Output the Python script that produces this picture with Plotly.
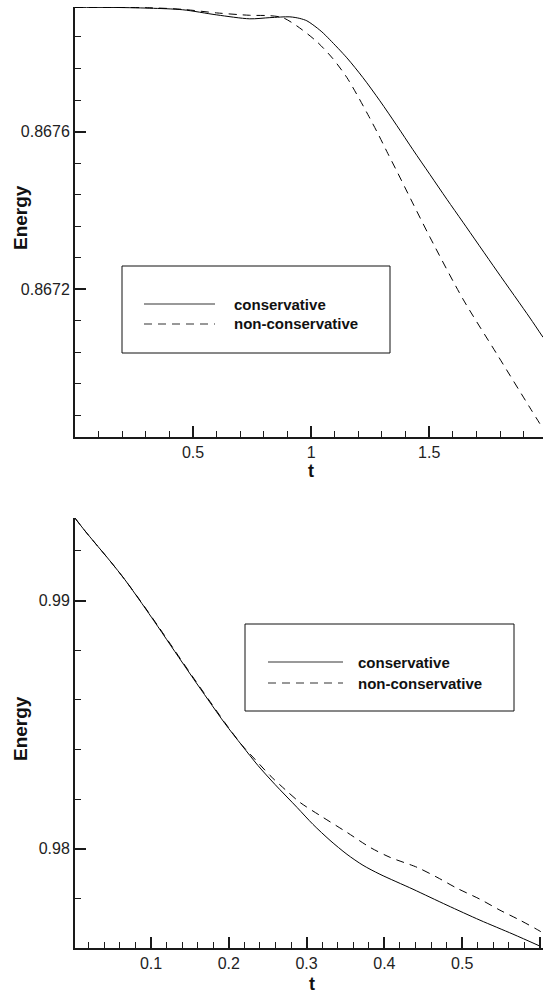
import plotly.graph_objects as go

# ---- upper panel: energy history over t in [0, 2] ----
t_top_cons = [0.0, 0.147, 0.317, 0.456, 0.600, 0.740, 0.825, 0.910, 0.952, 0.9818, 1.0072,
              1.0453, 1.0792, 1.1513, 1.2191, 1.2911, 1.3631, 1.4309, 1.5030, 1.5750,
              1.6428, 1.7869, 1.9267, 1.9818]
e_top_cons = [0.867915, 0.867915, 0.867913, 0.867909, 0.867896, 0.867886, 0.867889,
              0.867891, 0.867887, 0.867881, 0.867871, 0.867853, 0.867833, 0.867787,
              0.867737, 0.867678, 0.867615, 0.867554, 0.867491, 0.867428, 0.867370,
              0.867246, 0.867127, 0.867078]

t_top_noncons = [0.0, 0.317, 0.456, 0.600, 0.740, 0.825, 0.880, 0.9394, 1.0242, 1.0919,
                 1.1513, 1.1936, 1.2403, 1.2826, 1.3250, 1.3674, 1.4097, 1.5030, 1.6428,
                 1.7869, 1.9267, 1.9818]
e_top_noncons = [0.867915, 0.867914, 0.867910, 0.867901, 0.867895, 0.867894, 0.867889,
                 0.867868, 0.867828, 0.867785, 0.867737, 0.867694, 0.867643, 0.867595,
                 0.867544, 0.867494, 0.867443, 0.867332, 0.867175, 0.867035, 0.866899,
                 0.866846]

# ---- lower panel: energy history over t in [0, 0.6] ----
t_bot_cons = [0.0023, 0.0152, 0.0280, 0.0473, 0.0666, 0.0859, 0.1090, 0.1308, 0.1527,
              0.1733, 0.1951, 0.2170, 0.2375, 0.2594, 0.2877, 0.3082, 0.3301, 0.3519,
              0.3725, 0.3943, 0.4368, 0.4805, 0.5229, 0.5653, 0.6000]
e_bot_cons = [0.993320, 0.992803, 0.992320, 0.991596, 0.990832, 0.989988, 0.988943,
              0.987937, 0.986932, 0.986007, 0.985042, 0.984158, 0.983353, 0.982589,
              0.981665, 0.980981, 0.980338, 0.979775, 0.979333, 0.978971, 0.978368,
              0.977724, 0.977121, 0.976558, 0.976076]

t_bot_noncons = [0.0023, 0.0152, 0.0280, 0.0473, 0.0666, 0.0859, 0.1090, 0.1308, 0.1527,
                 0.1733, 0.1951, 0.2170, 0.2339, 0.2530, 0.2723, 0.2915, 0.3211, 0.3519,
                 0.3815, 0.4072, 0.4419, 0.4676, 0.4933, 0.5229, 0.5486, 0.5743, 0.6000,
                 0.6039]
e_bot_noncons = [0.993320, 0.992803, 0.992320, 0.991596, 0.990832, 0.990008, 0.988975,
                 0.987975, 0.986970, 0.986045, 0.985075, 0.984170, 0.983595, 0.982951,
                 0.982388, 0.981866, 0.981263, 0.980659, 0.980056, 0.979654, 0.979252,
                 0.978850, 0.978408, 0.977965, 0.977523, 0.977121, 0.976679, 0.976598]

series_names = ["conservative", "non-conservative"]
top_yticks = [0.8672, 0.8676]
top_xticks = [0.5, 1, 1.5]
bot_yticks = [0.98, 0.99]
bot_xticks = [0.1, 0.2, 0.3, 0.4, 0.5, 0.6]

W, H = 543, 993
FONT = "Liberation Sans, Arial, sans-serif"
AXC = "#1a1a1a"


def px_x(p):
    return p / W


def px_y(p):
    return 1 - p / H


fig = go.Figure()
solid = dict(color="black", width=1, shape="spline", smoothing=0.8)
dashed = dict(color="black", width=1, dash="8px,6px", shape="spline", smoothing=0.8)

fig.add_trace(go.Scatter(x=t_top_cons, y=e_top_cons, mode="lines", line=solid,
                         xaxis="x", yaxis="y", showlegend=False))
fig.add_trace(go.Scatter(x=t_top_noncons, y=e_top_noncons, mode="lines", line=dashed,
                         xaxis="x", yaxis="y", showlegend=False))
fig.add_trace(go.Scatter(x=t_bot_cons, y=e_bot_cons, mode="lines", line=solid,
                         xaxis="x2", yaxis="y2", showlegend=False))
fig.add_trace(go.Scatter(x=t_bot_noncons, y=e_bot_noncons, mode="lines", line=dashed,
                         xaxis="x2", yaxis="y2", showlegend=False))

x_dom = [px_x(75), 1.0]
common = dict(showline=True, linecolor=AXC, linewidth=2, showgrid=False, zeroline=False,
              ticks="inside", ticklen=11, tickwidth=2, tickcolor=AXC,
              tickfont=dict(family=FONT, size=16, color="#222"), mirror=False)

fig.update_layout(
    width=W, height=H, margin=dict(l=0, r=0, t=0, b=0),
    paper_bgcolor="white", plot_bgcolor="white", showlegend=False,
    xaxis=dict(domain=x_dom, anchor="y", range=[0, 1.9818], tickvals=top_xticks,
               ticktext=["0.5", "1", "1.5"],
               minor=dict(dtick=0.1, tick0=0, ticks="inside", ticklen=6, tickwidth=1,
                          tickcolor=AXC), **common),
    yaxis=dict(domain=[px_y(437), px_y(7)], anchor="x", range=[0.866825, 0.867916],
               tickvals=top_yticks, ticktext=["0.8672", "0.8676"],
               minor=dict(dtick=0.00008, tick0=0.8672, ticks="inside", ticklen=6,
                          tickwidth=1, tickcolor=AXC), **common),
    xaxis2=dict(domain=x_dom, anchor="y2", range=[0.0023, 0.6039], tickvals=bot_xticks,
                ticktext=["0.1", "0.2", "0.3", "0.4", "0.5", "0.6"],
                minor=dict(dtick=0.02, tick0=0, ticks="inside", ticklen=6, tickwidth=1,
                           tickcolor=AXC), **common),
    yaxis2=dict(domain=[px_y(948), px_y(518)], anchor="x2", range=[0.976, 0.993325],
                tickvals=bot_yticks, ticktext=["0.98", "0.99"],
                minor=dict(dtick=0.002, tick0=0.98, ticks="inside", ticklen=6,
                           tickwidth=1, tickcolor=AXC), **common),
)

annotations = [
    dict(text="<b>Energy</b>", x=px_x(20), y=px_y(218), textangle=-90, size=19),
    dict(text="<b>t</b>", x=px_x(311), y=px_y(471), textangle=0, size=18),
    dict(text="<b>Energy</b>", x=px_x(20), y=px_y(729), textangle=-90, size=19),
    dict(text="<b>t</b>", x=px_x(312), y=px_y(984), textangle=0, size=18),
]
for a in annotations:
    fig.add_annotation(xref="paper", yref="paper", showarrow=False,
                       font=dict(family=FONT, size=a["size"], color="#111"),
                       xanchor="center", yanchor="middle", text=a["text"],
                       x=a["x"], y=a["y"], textangle=a["textangle"])

# legend boxes in pixel units: box left, top, right, bottom, sample x0, x1, text x, row y's
legend_boxes = [
    (122, 266, 390, 353, 144, 215, 232, 304, 324),
    (245, 624, 514, 711, 268, 343, 356, 662, 683),
]
shapes = []
for (bl, bt, br, bb, lx0, lx1, tx, y1, y2) in legend_boxes:
    shapes.append(dict(type="rect", xref="paper", yref="paper", x0=px_x(bl), x1=px_x(br),
                       y0=px_y(bb), y1=px_y(bt), line=dict(color="#111", width=1),
                       fillcolor="white", layer="above"))
    shapes.append(dict(type="line", xref="paper", yref="paper", x0=px_x(lx0), x1=px_x(lx1),
                       y0=px_y(y1), y1=px_y(y1), line=dict(color="#777", width=1.5)))
    shapes.append(dict(type="line", xref="paper", yref="paper", x0=px_x(lx0), x1=px_x(lx1),
                       y0=px_y(y2), y1=px_y(y2),
                       line=dict(color="#777", width=1.5, dash="8px,6px")))
    for name, yy in zip(series_names, (y1, y2)):
        fig.add_annotation(xref="paper", yref="paper", x=px_x(tx), y=px_y(yy),
                           text="<b>" + name + "</b>", showarrow=False, xanchor="left",
                           yanchor="middle", font=dict(family=FONT, size=15, color="#111"))
fig.update_layout(shapes=shapes)

fig.write_html("out.html")
